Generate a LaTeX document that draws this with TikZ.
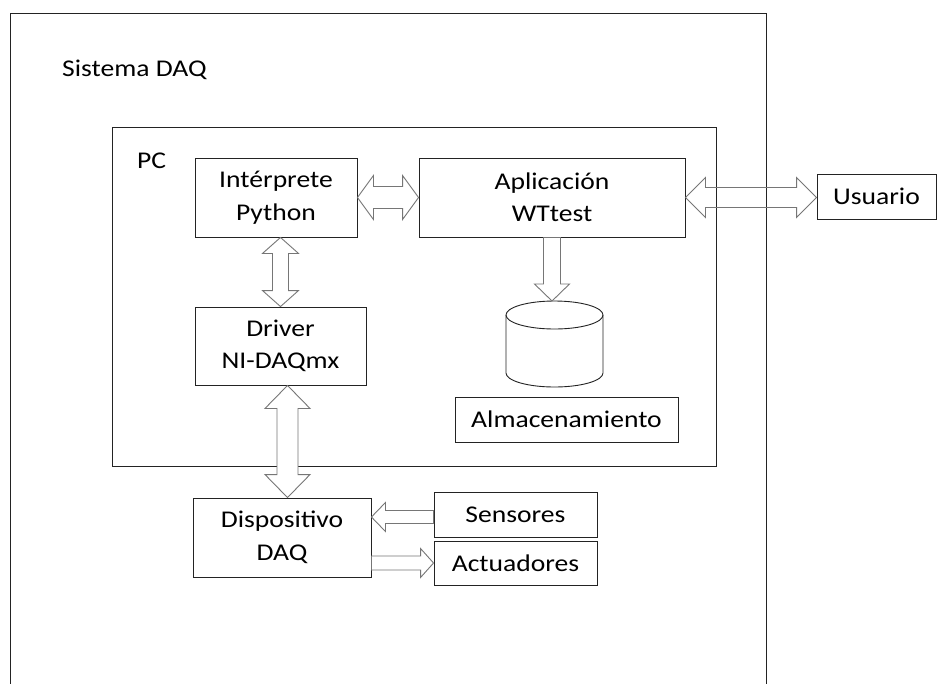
\documentclass[tikz,border=0pt]{standalone}
\usepackage{fontspec}
\setmainfont{Carlito}[FakeStretch=1.15]
\usetikzlibrary{calc}
\definecolor{arrowgray}{RGB}{118,118,118}
\definecolor{boxline}{RGB}{35,35,35}
\tikzset{
  blockbox/.style={draw=boxline, line width=0.9pt, align=center, inner sep=0pt,
    font=\fontsize{24}{32.5}\selectfont},
  blockarrow/.style={draw=arrowgray, line width=0.9pt, fill=white, line join=miter},
  framebox/.style={draw=boxline, line width=0.9pt},
  plainlabel/.style={inner sep=0pt, font=\fontsize{24}{30}\selectfont}
}
% double block arrow: [opts]{A}{B}{half body}{half head}{head length}
\newcommand\dblarrow[6][]{%
  \coordinate (tmpD) at ($(#2)!#6pt!(#3)$);
  \coordinate (tmpC) at ($(#3)!#6pt!(#2)$);
  \draw[blockarrow,#1] (#2) -- ($(tmpD)!#5pt!90:(#3)$) -- ($(tmpD)!#4pt!90:(#3)$)
    -- ($(tmpC)!#4pt!90:(#3)$) -- ($(tmpC)!#5pt!90:(#3)$) -- (#3)
    -- ($(tmpC)!#5pt!-90:(#3)$) -- ($(tmpC)!#4pt!-90:(#3)$)
    -- ($(tmpD)!#4pt!-90:(#3)$) -- ($(tmpD)!#5pt!-90:(#3)$) -- cycle;}
% single block arrow: [opts]{tail}{tip}{half body}{half head}{head length}
\newcommand\sglarrow[6][]{%
  \coordinate (tmpC) at ($(#3)!#6pt!(#2)$);
  \draw[blockarrow,#1] ($(#2)!#4pt!90:(#3)$) -- ($(tmpC)!#4pt!90:(#3)$)
    -- ($(tmpC)!#5pt!90:(#3)$) -- (#3) -- ($(tmpC)!#5pt!-90:(#3)$)
    -- ($(tmpC)!#4pt!-90:(#3)$) -- ($(#2)!#4pt!-90:(#3)$) -- cycle;}
\begin{document}
\begin{tikzpicture}[x=1pt,y=-1pt]
\useasboundingbox (0,0) rectangle (937,683);
\fill[white] (0,0) rectangle (937,683);
% outer frame (bottom runs off the picture)
\draw[framebox] (10,690) -- (10,13) -- (766,13) -- (766,690);
\node[plainlabel, anchor=base west] (sys) at (62,76) {Sistema DAQ};
% PC frame
\node[framebox, minimum width=604pt, minimum height=339pt, inner sep=0pt] (pc) at (414,296.5) {};
\node[plainlabel, anchor=base west] (pclabel) at (137,168) {PC};
% boxes
\node[blockbox, minimum width=162pt, minimum height=79pt] (ip) at (276,197.5) {Intérprete\\Python};
\node[blockbox, minimum width=266pt, minimum height=79pt] (app) at (552,197.5) {Aplicación\\WTtest};
\node[blockbox, minimum width=119pt, minimum height=45pt] (usr) at (876.5,196.5) {Usuario};
\node[blockbox, minimum width=171pt, minimum height=78pt] (drv) at (280.5,346) {Driver\\NI-DAQmx};
\node[blockbox, minimum width=223pt, minimum height=45pt] (alm) at (566.5,419.5) {Almacenamiento};
\node[blockbox, minimum width=178pt, minimum height=79pt] (disp) at (282,537.5) {Dispositivo\\DAQ};
\node[blockbox, minimum width=163pt, minimum height=45pt] (sens) at (515.5,514.5) {Sensores};
\node[blockbox, minimum width=163pt, minimum height=44pt] (act) at (515.5,563) {Actuadores};
% storage cylinder
\draw[framebox] (506,315) -- (506,373) arc[start angle=180, end angle=0, x radius=48.5, y radius=14] -- (603,315);
\draw[framebox] (554.5,315) ellipse[x radius=48.5, y radius=14];
\coordinate (cyltop) at (552,301);
% arrows
\dblarrow{ip.east}{app.west}{11}{22}{16}
\coordinate (u1) at (app.east);
\coordinate (u2) at (app.east -| usr.west);
\dblarrow[fill=none]{u1}{u2}{10}{20}{20}
\coordinate (v1) at (drv.north |- ip.south);
\dblarrow{v1}{drv.north}{8}{18}{16}
\coordinate (dd1) at ([xshift=7pt]drv.south);
\coordinate (dd2) at (dd1 |- disp.north);
\dblarrow{dd1}{dd2}{10.5}{22.5}{23}
\sglarrow{app.south}{cyltop}{8.5}{17.5}{17}
\coordinate (s1) at ([yshift=-2.5pt]sens.west);
\coordinate (s2) at (disp.east |- s1);
\sglarrow{s1}{s2}{6.5}{14.5}{14}
\coordinate (a1) at (disp.east |- act.west);
\sglarrow{a1}{act.west}{7}{14.5}{13}
\end{tikzpicture}
\end{document}
